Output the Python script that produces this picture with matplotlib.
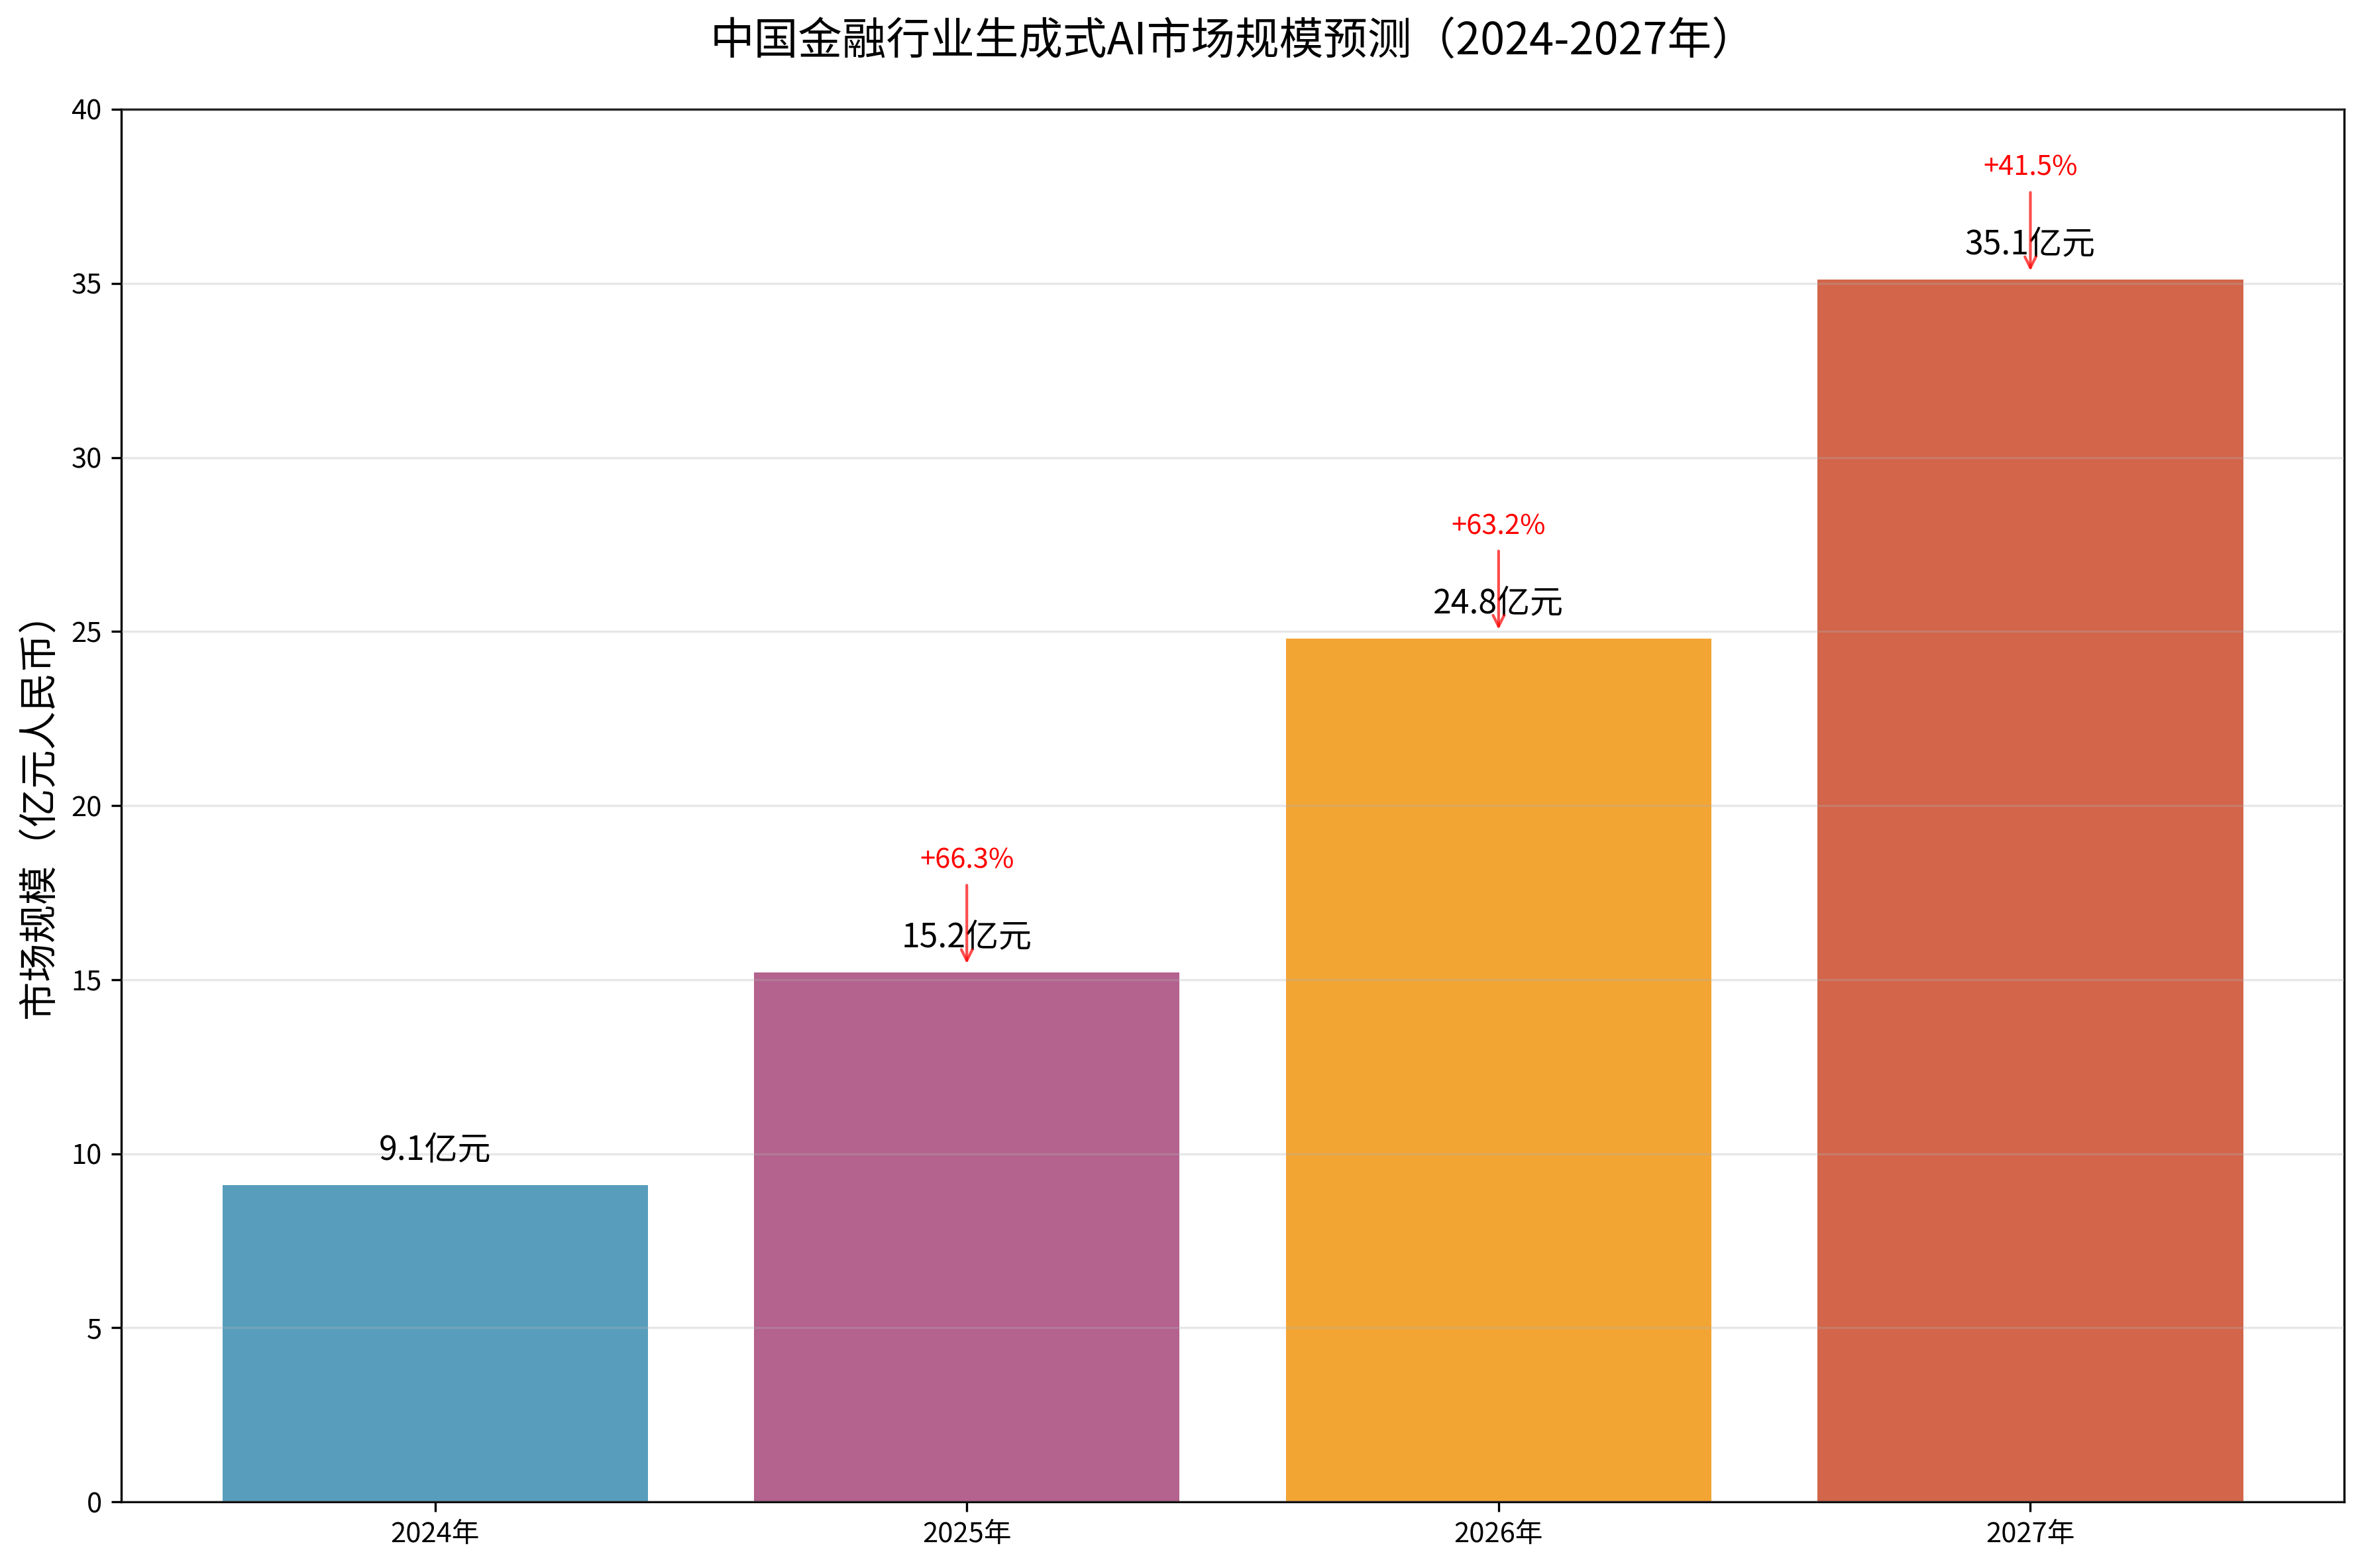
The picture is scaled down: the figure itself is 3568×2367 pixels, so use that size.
import matplotlib
matplotlib.use("Agg")
from matplotlib import pyplot as plt

plt.rcParams['font.family'] = ['Noto Sans CJK SC', 'DejaVu Sans']
plt.rcParams['axes.unicode_minus'] = False

years = ['2024年', '2025年', '2026年', '2027年']
market_size = [9.1, 15.2, 24.8, 35.1]
growth = ['', '+66.3%', '+63.2%', '+41.5%']
colors = ['#2E86AB', '#A23B72', '#F18F01', '#C73E1D']

fig = plt.figure(figsize=(3568 / 300, 2367 / 300), dpi=300)
ax = fig.add_axes([0.0513, 0.0422, 0.9403, 0.8881])

x = range(len(years))
bars = ax.bar(x, market_size, color=colors, alpha=0.8, width=0.8)

# value labels on top of bars
for i, v in enumerate(market_size):
    ax.text(i, v + 0.5, f'{v}亿元', ha='center', va='bottom', fontsize=12)

# growth rate arrows
for i in range(1, len(market_size)):
    ax.annotate(growth[i], xy=(i, market_size[i] + 0.1), xytext=(i, market_size[i] + 3),
                ha='center', fontsize=10, color='red',
                arrowprops=dict(arrowstyle='->', color='red', alpha=0.7))

ax.set_xticks(list(x))
ax.set_xticklabels(years)
ax.set_ylim(0, 40)
ax.set_ylabel('市场规模（亿元人民币）', fontsize=14)
ax.set_title('中国金融行业生成式AI市场规模预测（2024-2027年）', fontsize=16, pad=20)
ax.grid(axis='y', alpha=0.3)
ax.set_axisbelow(False)

fig.savefig('out.png', dpi=300)
